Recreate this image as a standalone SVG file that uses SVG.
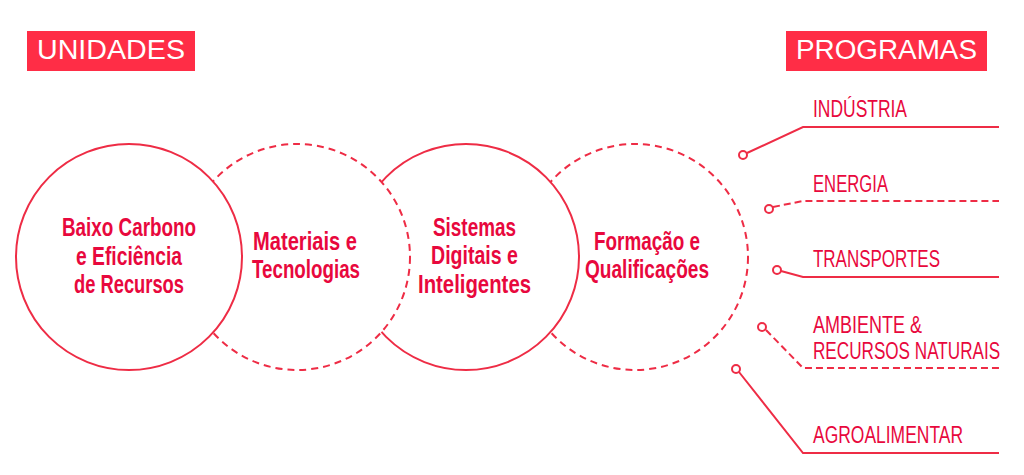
<svg xmlns="http://www.w3.org/2000/svg" width="1024" height="475" viewBox="0 0 1024 475">
<style>
.solid{fill:#fff;stroke:#EE2C45;stroke-width:2}
.dash{fill:#fff;stroke:#EE2C45;stroke-width:2;stroke-dasharray:7 5}
.ut{font-family:"Liberation Sans",Arial,sans-serif;font-weight:bold;font-size:25px;fill:#E8083D;text-anchor:start}
.pt{font-family:"Liberation Sans",Arial,sans-serif;font-size:23px;fill:#E8083D}
.tt{font-family:"Liberation Sans",Arial,sans-serif;font-size:27px;fill:#fff}
.box{fill:#FF2D46}
.ln{fill:none;stroke:#EE2C45;stroke-width:2}
.ld{fill:none;stroke:#EE2C45;stroke-width:2;stroke-dasharray:7 4}
.dot{fill:#fff;stroke:#EE2C45;stroke-width:2}
</style>
<rect width="1024" height="475" fill="#fff"/>
<g id="title-unidades">
<rect class="box" x="27" y="31" width="168" height="40"/>
<text class="tt" x="37" y="59" textLength="148" lengthAdjust="spacingAndGlyphs">UNIDADES</text>
</g>
<g id="title-programas">
<rect class="box" x="786" y="31" width="201" height="40"/>
<text class="tt" x="796" y="59" textLength="181" lengthAdjust="spacingAndGlyphs">PROGRAMAS</text>
</g>
<g id="unit-formacao">
<circle class="dash" cx="635" cy="257" r="113"/>
<text class="ut" x="594" y="250" textLength="106" lengthAdjust="spacingAndGlyphs">Formação e</text>
<text class="ut" x="585" y="278" textLength="124" lengthAdjust="spacingAndGlyphs">Qualificações</text>
</g>
<g id="unit-sistemas">
<circle class="solid" cx="466" cy="257" r="113"/>
<text class="ut" x="433" y="236" textLength="83" lengthAdjust="spacingAndGlyphs">Sistemas</text>
<text class="ut" x="431" y="264" textLength="87" lengthAdjust="spacingAndGlyphs">Digitais e</text>
<text class="ut" x="418" y="293" textLength="113" lengthAdjust="spacingAndGlyphs">Inteligentes</text>
</g>
<g id="unit-materiais">
<circle class="dash" cx="297" cy="257" r="113"/>
<text class="ut" x="253" y="250" textLength="104" lengthAdjust="spacingAndGlyphs">Materiais e</text>
<text class="ut" x="252" y="278" textLength="108" lengthAdjust="spacingAndGlyphs">Tecnologias</text>
</g>
<g id="unit-baixo-carbono">
<circle class="solid" cx="129" cy="257" r="113"/>
<text class="ut" x="62" y="236" textLength="134" lengthAdjust="spacingAndGlyphs">Baixo Carbono</text>
<text class="ut" x="76" y="265" textLength="106" lengthAdjust="spacingAndGlyphs">e Eficiência</text>
<text class="ut" x="74" y="293" textLength="110" lengthAdjust="spacingAndGlyphs">de Recursos</text>
</g>
<g id="connectors">
<polyline class="ln" points="747,153 803,127 999,127"/>
<polyline class="ld" points="773,207 803,201 999,201"/>
<polyline class="ln" points="781,271 803,277 999,277"/>
<polyline class="ld" points="766,330 803,368 999,368"/>
<polyline class="ln" points="739,372 803,453 999,453"/>
<circle class="dot" cx="743" cy="155" r="4"/>
<circle class="dot" cx="769" cy="209" r="4"/>
<circle class="dot" cx="777" cy="270" r="4"/>
<circle class="dot" cx="762" cy="327" r="4"/>
<circle class="dot" cx="736" cy="369" r="4"/>
</g>
<g id="prog-industria"><text class="pt" x="813" y="117" textLength="94" lengthAdjust="spacingAndGlyphs">INDÚSTRIA</text></g>
<g id="prog-energia"><text class="pt" x="813" y="192" textLength="75" lengthAdjust="spacingAndGlyphs">ENERGIA</text></g>
<g id="prog-transportes"><text class="pt" x="813" y="267" textLength="127" lengthAdjust="spacingAndGlyphs">TRANSPORTES</text></g>
<g id="prog-ambiente">
<text class="pt" x="813" y="333" textLength="109" lengthAdjust="spacingAndGlyphs">AMBIENTE &amp;</text>
<text class="pt" transform="translate(813,359) scale(0.745,1)" x="0" y="0">RECURSOS NATURAIS</text>
</g>
<g id="prog-agroalimentar"><text class="pt" x="813" y="443" textLength="150" lengthAdjust="spacingAndGlyphs">AGROALIMENTAR</text></g>
</svg>
